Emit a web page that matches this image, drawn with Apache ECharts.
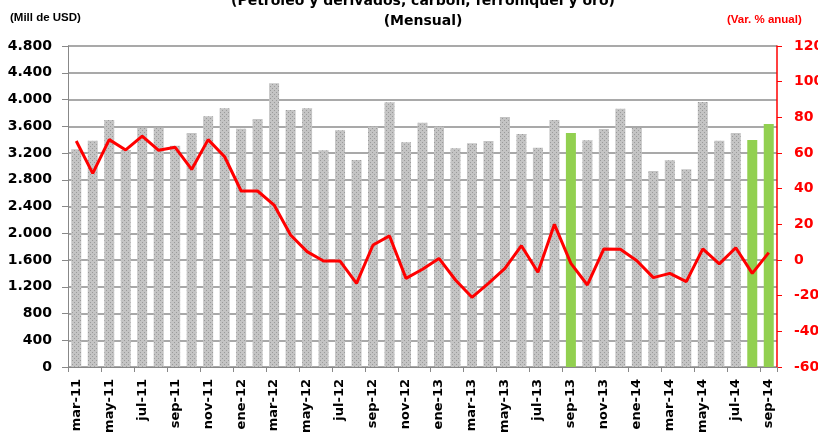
<!DOCTYPE html>
<html>
<head>
    <meta charset="utf-8">
    <title>Exportaciones tradicionales</title>
    <script src="https://cdn.jsdelivr.net/npm/echarts@6/dist/echarts.min.js"></script>
    <style type="text/css">
        html, body { margin: 0; padding: 0; background: #fff; }
        #chart { width: 818px; height: 442px; }
    </style>
</head>
<body>
    <div id="chart"></div>
    <script>
        // meses (mar-11 .. sep-14)
        var meses = ['mar-11', 'abr-11', 'may-11', 'jun-11', 'jul-11', 'ago-11', 'sep-11', 'oct-11', 'nov-11', 'dic-11',
            'ene-12', 'feb-12', 'mar-12', 'abr-12', 'may-12', 'jun-12', 'jul-12', 'ago-12', 'sep-12', 'oct-12', 'nov-12', 'dic-12',
            'ene-13', 'feb-13', 'mar-13', 'abr-13', 'may-13', 'jun-13', 'jul-13', 'ago-13', 'sep-13', 'oct-13', 'nov-13', 'dic-13',
            'ene-14', 'feb-14', 'mar-14', 'abr-14', 'may-14', 'jun-14', 'jul-14', 'ago-14', 'sep-14'];
        // millones de USD
        var valores = [3255, 3384, 3693, 3245, 3579, 3579, 3310, 3499, 3749, 3868,
            3564, 3708, 4242, 3843, 3868, 3240, 3539, 3095, 3594, 3958, 3359, 3653,
            3594, 3270, 3345, 3380, 3738, 3484, 3280, 3693, 3499, 3389, 3559, 3863,
            3574, 2931, 3090, 2956, 3963, 3384, 3499, 3394, 3634];
        // variacion % anual
        var variacion = [66.7, 48.6, 67.5, 61.7, 69.5, 61.5, 63.2, 50.8, 67.5, 57.9,
            38.7, 38.7, 30.8, 14.0, 4.7, -0.6, -0.6, -13.1, 8.4, 13.5, -10.3, -5.2,
            0.9, -11.2, -20.9, -13.1, -4.7, 8.0, -6.9, 20.0, -1.9, -14.0, 6.2, 6.0,
            -0.4, -9.9, -7.5, -12.1, 6.2, -2.2, 6.9, -7.5, 4.1];
        var resaltados = ['sep-13', 'ago-14', 'sep-14'];

        // patron punteado de las barras
        var pat = document.createElement('canvas');
        pat.width = 4; pat.height = 4;
        var ctx = pat.getContext('2d');
        ctx.fillStyle = '#c4c4c4';
        ctx.fillRect(0, 0, 4, 4);
        ctx.fillStyle = '#9a9a9a';
        ctx.fillRect(0, 0, 1, 1);
        ctx.fillRect(2, 2, 1, 1);

        var barData = [];
        for (var i = 0; i < meses.length; i++) {
            if (resaltados.indexOf(meses[i]) >= 0) {
                barData.push({ value: valores[i], itemStyle: { color: '#92d050' } });
            } else {
                barData.push(valores[i]);
            }
        }

        var fuente = "'DejaVu Sans', 'Liberation Sans', Arial, sans-serif";
        var fuenteChica = "'Liberation Sans', Arial, sans-serif";
        var chart = echarts.init(document.getElementById('chart'));
        var option = {
            animation: false,
            textStyle: { fontFamily: fuente },
            title: {
                text: '(Petróleo y derivados, carbón, ferroníquel y oro)\n(Mensual)',
                left: 418,
                textAlign: 'center',
                top: -14,
                textStyle: { fontSize: 14, fontWeight: 'bold', color: '#000', lineHeight: 20, fontFamily: fuente }
            },
            graphic: [
                { type: 'text', left: 10, top: 12, style: { text: '(Mill de USD)', fontSize: 11.5, fontWeight: 'bold', fill: '#000', fontFamily: fuenteChica } },
                { type: 'text', left: 727, top: 14, style: { text: '(Var. % anual)', fontSize: 11.5, fontWeight: 'bold', fill: '#ff0000', fontFamily: fuenteChica } }
            ],
            grid: { left: 68, right: 41, top: 46, bottom: 75, containLabel: false, outerBoundsMode: 'none' },
            xAxis: {
                type: 'category',
                data: meses,
                axisLine: { lineStyle: { color: '#888', width: 1 } },
                axisTick: { show: true, interval: 1, length: 5, lineStyle: { color: '#888' } },
                axisLabel: { interval: 1, rotate: 90, fontSize: 13, fontWeight: 'bold', color: '#000', margin: 12 }
            },
            yAxis: [
                {
                    type: 'value', min: 0, max: 4800, interval: 400,
                    axisLine: { show: true, lineStyle: { color: '#888' } },
                    axisTick: { show: true, length: 6, lineStyle: { color: '#888' } },
                    splitLine: { lineStyle: { color: '#8c8c8c', width: 1.5 } },
                    axisLabel: {
                        fontSize: 14, fontWeight: 'bold', color: '#000', margin: 16,
                        formatter: function (v) { return v >= 1000 ? Math.floor(v / 1000) + '.' + ('00' + (v % 1000)).slice(-3) : String(v); }
                    }
                },
                {
                    type: 'value', min: -60, max: 120, interval: 20,
                    axisLine: { show: true, lineStyle: { color: '#ff0000', width: 1.5 } },
                    axisTick: { show: true, length: 5, lineStyle: { color: '#ff0000' } },
                    splitLine: { show: false },
                    axisLabel: { fontSize: 14, fontWeight: 'bold', color: '#ff0000', margin: 17 }
                }
            ],
            series: [
                {
                    name: 'Exportaciones',
                    type: 'bar',
                    barWidth: 10,
                    itemStyle: { color: { image: pat, repeat: 'repeat' } },
                    data: barData
                },
                {
                    name: 'Var. % anual',
                    type: 'line',
                    yAxisIndex: 1,
                    symbol: 'none',
                    lineStyle: { color: '#ff0000', width: 3 },
                    data: variacion
                }
            ]
        };
        chart.setOption(option);
    </script>
</body>
</html>
